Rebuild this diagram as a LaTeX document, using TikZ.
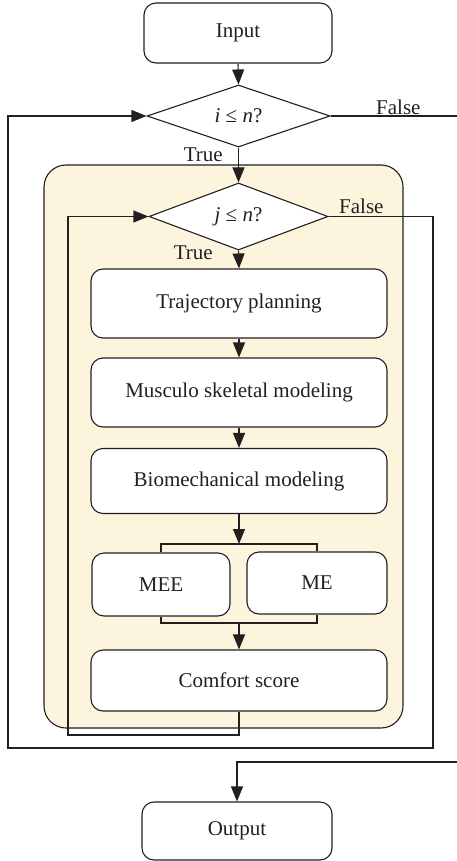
\documentclass[tikz,border=0pt]{standalone}
\usepackage{fontspec}
\setmainfont{Liberation Serif}
\usetikzlibrary{shapes.geometric,arrows.meta}
\definecolor{ink}{HTML}{231F20}
\definecolor{cream}{HTML}{FCF4DD}
\begin{document}
\begin{tikzpicture}[x=1pt,y=-1pt,
  every node/.style={font=\fontsize{21}{25}\selectfont, text=ink},
  proc/.style={draw=ink, line width=1.1pt, fill=white, rounded corners=12pt,
    inner sep=0pt},
  cond/.style={draw=ink, line width=1.1pt, fill=white, diamond, inner sep=0pt,
    shape aspect=3},
  lbl/.style={inner sep=0pt},
  flow/.style={draw=ink, line width=1.1pt},
  arr/.style={flow, -{Triangle[length=15pt,width=12pt]}}]
\useasboundingbox (0,0) rectangle (457,861);

% shaded region for the inner loop
\draw[ink, line width=1.1pt, fill=cream, rounded corners=22pt] (44,165) rectangle (403,728);

% nodes
\node[proc, minimum width=188, minimum height=60] (in) at (238,33) {Input};
\node[cond, minimum width=183, minimum height=62] (ci) at (238.5,116) {\textit{i} ≤ \textit{n}?};
\node[cond, minimum width=179, minimum height=67] (cj) at (238.5,216.5) {\textit{j} ≤ \textit{n}?};
\node[proc, minimum width=296, minimum height=69] (traj) at (239,303.5) {Trajectory planning};
\node[proc, minimum width=296, minimum height=69] (musc) at (239,392.5) {Musculo skeletal modeling};
\node[proc, minimum width=296, minimum height=65] (bio) at (239,481) {Biomechanical modeling};
\node[proc, minimum width=138, minimum height=63] (mee) at (161,584.5) {MEE};
\node[proc, minimum width=140, minimum height=62] (me) at (317,583) {ME};
\node[proc, minimum width=296, minimum height=61] (cs) at (239,680.5) {Comfort score};
\node[proc, minimum width=190, minimum height=58] (out) at (237,831) {Output};

% branch labels
\node[lbl, anchor=east] (ti) at (223,155) {True};
\node[lbl, anchor=west] (fi) at (376,107) {False};
\node[lbl, anchor=east] (tj) at (213,253) {True};
\node[lbl, anchor=west] (fj) at (339,206) {False};

% routing points
\coordinate (brT) at (239,544);
\coordinate (brB) at (239,623);
\coordinate (iexit) at (457,116);
\coordinate (oin) at (457,762);

% main flow
\draw[arr] (in.south) -- (ci.north);
\draw[arr] (ci.south) -- (cj.north);
\draw[arr] (cj.south) -- (traj.north);
\draw[arr] (traj.south) -- (musc.north);
\draw[arr] (musc.south) -- (bio.north);
\draw[arr] (bio.south) -- (brT);
\draw[flow] (mee.north) -- (mee.north |- brT) -- (me.north |- brT) -- (me.north);
\draw[flow] (mee.south) -- (mee.south |- brB) -- (me.south |- brB) -- (me.south);
\draw[arr] (brB) -- (cs.north);

% inner loop back to j
\draw[arr] (cs.south) -- (cs.south |- 0,735) -- (68,735) -- (68,216.5) -- (cj.west);
% inner loop exit back to i
\draw[arr] (cj.east) -- (433,216.5) -- (433,748) -- (8,748) -- (8,116) -- (ci.west);
% outer loop exit
\draw[flow] (ci.east) -- (iexit);
\draw[arr] (oin) -- (out.north |- oin) -- (out.north);
\end{tikzpicture}
\end{document}
